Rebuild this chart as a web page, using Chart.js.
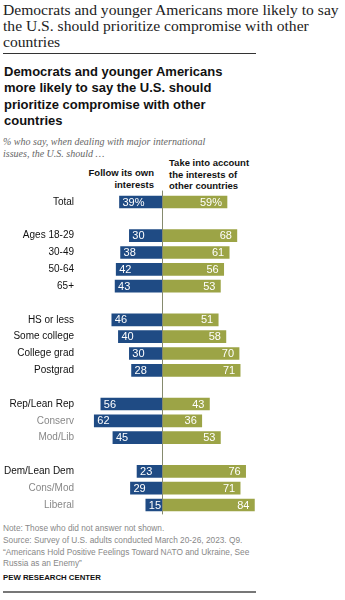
<!DOCTYPE html>
<html>
<head>
<meta charset="utf-8">
<script src="https://cdn.jsdelivr.net/npm/chart.js@4"></script>
<style>
  html, body { margin: 0; padding: 0; background: #fff; }
  body { width: 345px; height: 600px; position: relative; overflow: hidden; }
  .abs { position: absolute; white-space: nowrap; }
  #headline { left: 3px; top: 2px; font: 15.6px/16px "Liberation Serif", serif; color: #222; }
  #rule-top { left: 3px; top: 53px; width: 253px; height: 1px; background: #333; }
  #title { left: 4px; top: 64px; font: bold 13px/16.3px "Liberation Sans", Arial, sans-serif; color: #111; }
  #subtitle { left: 3px; top: 136px; font: italic 10px/12px "Liberation Serif", serif; color: #666; }
  .head { font: bold 9.5px/11.6px "Liberation Sans", Arial, sans-serif; color: #111; }
  #head-left { right: 191px; top: 167px; text-align: right; }
  #head-right { left: 169px; top: 157px; text-align: left; }
  #chart-wrap { left: 0; top: 186px; width: 345px; height: 334px; }
  #notes { left: 3px; top: 523px; font: 8.3px/11.8px "Liberation Sans", Arial, sans-serif; color: #888; }
  #credit { left: 3px; top: 572px; font: bold 7.8px/12px "Liberation Sans", Arial, sans-serif; color: #111; }
  #rule-bottom { left: 3px; top: 591px; width: 253px; height: 2px; background: #777; }
</style>
</head>
<body>
<div id="headline" class="abs">Democrats and younger Americans more likely to say<br>the U.S. should prioritize compromise with other<br>countries</div>
<div id="rule-top" class="abs"></div>
<div id="title" class="abs">Democrats and younger Americans<br>more likely to say the U.S. should<br>prioritize compromise with other<br>countries</div>
<div id="subtitle" class="abs">% who say, when dealing with major international<br>issues, the U.S. should …</div>
<div id="head-left" class="abs head">Follow its own<br>interests</div>
<div id="head-right" class="abs head">Take into account<br>the interests of<br>other countries</div>
<div id="chart-wrap" class="abs"><canvas id="chart"></canvas></div>
<div id="notes" class="abs">Note: Those who did not answer not shown.<br>Source: Survey of U.S. adults conducted March 20-26, 2023. Q9.<br>“Americans Hold Positive Feelings Toward NATO and Ukraine, See<br>Russia as an Enemy”</div>
<div id="credit" class="abs">PEW RESEARCH CENTER</div>
<div id="rule-bottom" class="abs"></div>

<script>
// Rows of the chart; empty strings are spacer rows between groups.
const categories = ["Total", "", "Ages 18-29", "30-49", "50-64", "65+", "",
  "HS or less", "Some college", "College grad", "Postgrad", "",
  "Rep/Lean Rep", "Conserv", "Mod/Lib", "",
  "Dem/Lean Dem", "Cons/Mod", "Liberal"];

// % saying the U.S. should follow its own interests
const followOwn = [39, null, 30, 38, 42, 43, null,
  46, 40, 30, 28, null,
  56, 62, 45, null,
  23, 29, 15];

// % saying the U.S. should take into account the interests of other countries
const takeIntoAccount = [59, null, 68, 61, 56, 53, null,
  51, 58, 70, 71, null,
  43, 36, 53, null,
  76, 71, 84];

// Sub-groups are shown in lighter grey
const subgroups = ["Conserv", "Mod/Lib", "Cons/Mod", "Liberal"];

const BLUE = "#1f4b84";
const GREEN = "#9ca446";

// White value labels inside each bar: blue ones at the outer-left end, green ones at the outer-right end
const valueLabels = {
  id: "valueLabels",
  afterDatasetsDraw(chart) {
    const ctx = chart.ctx;
    ctx.save();
    ctx.font = "11px 'Liberation Sans', Arial, sans-serif";
    ctx.fillStyle = "#fff";
    ctx.textBaseline = "middle";
    chart.data.datasets.forEach((ds, di) => {
      const meta = chart.getDatasetMeta(di);
      meta.data.forEach((bar, i) => {
        const raw = di === 0 ? followOwn[i] : takeIntoAccount[i];
        if (raw == null) return;
        const txt = i === 0 ? raw + "%" : String(raw);
        if (di === 0) {
          ctx.textAlign = "left";
          ctx.fillText(txt, bar.x + 3, bar.y + 0.5);
        } else {
          ctx.textAlign = "right";
          ctx.fillText(txt, bar.x - 5, bar.y + 0.5);
        }
      });
    });
    ctx.restore();
  }
};

// Thin vertical divider at zero
const centerLine = {
  id: "centerLine",
  afterDatasetsDraw(chart) {
    const { ctx, chartArea, scales } = chart;
    const x = Math.round(scales.x.getPixelForValue(0)) + 0.5;
    ctx.save();
    ctx.strokeStyle = "#858a6e";
    ctx.lineWidth = 1;
    ctx.beginPath();
    ctx.moveTo(x, chartArea.top - 3);
    ctx.lineTo(x, chartArea.bottom + 1);
    ctx.stroke();
    ctx.restore();
  }
};

new Chart(document.getElementById("chart"), {
  type: "bar",
  data: {
    labels: categories,
    datasets: [
      { label: "Follow its own interests", data: followOwn.map(v => v == null ? null : -v),
        backgroundColor: BLUE, barThickness: 12 },
      { label: "Take into account the interests of other countries", data: takeIntoAccount,
        backgroundColor: GREEN, barThickness: 12 }
    ]
  },
  options: {
    indexAxis: "y",
    responsive: true,
    maintainAspectRatio: false,
    animation: false,
    layout: { padding: { top: 7.6, bottom: 6.6, left: 0, right: 84 } },
    plugins: { legend: { display: false }, tooltip: { enabled: false } },
    scales: {
      x: {
        stacked: true, min: -75, max: 90,
        display: false
      },
      y: {
        stacked: true,
        grid: { display: false, drawTicks: false },
        border: { display: false },
        afterFit(scale) {
          scale.width = 80;
          scale.paddingTop = 0;
          scale.paddingBottom = 0;
        },
        ticks: {
          padding: 6,
          autoSkip: false,
          font: { family: "'Liberation Sans', Arial, sans-serif", size: 10 },
          color: ctx => subgroups.includes(categories[ctx.index]) ? "#888" : "#111"
        }
      }
    }
  },
  plugins: [valueLabels, centerLine]
});
</script>
</body>
</html>
